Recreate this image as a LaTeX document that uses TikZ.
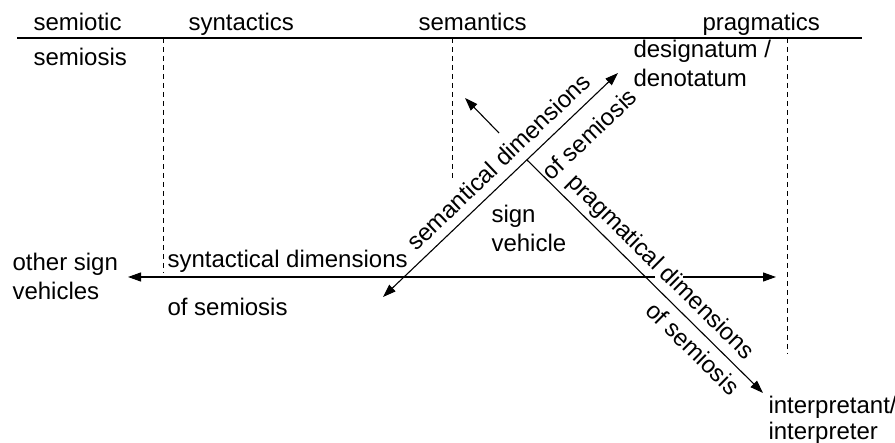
\documentclass[tikz,border=0pt]{standalone}
\usepackage{fontspec}
\setmainfont{Liberation Sans}
\usetikzlibrary{arrows.meta}

\begin{document}
\begin{tikzpicture}[>={Triangle[length=13pt,width=9pt]}, x=1pt, y=-1pt, line width=1.1pt]
    \tikzset{
        lbl/.style={inner sep=0pt, font=\fontsize{24}{29}\selectfont, align=left},
        sep/.style={line width=0.9pt, dash pattern=on 5pt off 4pt}
    }
    \useasboundingbox (0,0) rectangle (895,443);

    % --- header row ---
    \coordinate (headL) at (17,38);
    \coordinate (headR) at (862,38);
    \draw (headL) -- (headR);
    \node[lbl, anchor=base west] (semiotic)   at (33,31)  {semiotic};
    \node[lbl, anchor=base west] (syntactics) at (188,31) {syntactics};
    \node[lbl, anchor=base west] (semantics)  at (418,31) {semantics};
    \node[lbl, anchor=base west] (pragmatics) at (702,31) {pragmatics};
    \node[lbl, anchor=base west] (semiosis)   at (33,66)  {semiosis};

    % --- dashed separators ---
    \coordinate (synTop) at (163,38);  \coordinate (synBot) at (163,273);
    \coordinate (semTop) at (452,38);  \coordinate (semBot) at (452,178);
    \coordinate (praTop) at (787,38);  \coordinate (praBot) at (787,354);
    \draw[sep] (synTop) -- (synBot);
    \draw[sep] (semTop) -- (semBot);
    \draw[sep] (praTop) -- (praBot);

    % --- end labels ---
    \node[lbl, anchor=north west] (design) at (633,40) {designatum /\\denotatum};
    \node[lbl, anchor=north west] (other)  at (12,252.5) {other sign\\vehicles};
    \node[lbl, anchor=north west] (sign)   at (491,204.5) {sign\\vehicle};
    \node[lbl, anchor=north west, font=\fontsize{24}{26}\selectfont] (interp) at (768,395.5) {interpretant/\\interpreter};

    % --- syntactical dimension (horizontal, gap for the text) ---
    \coordinate (hLeft)  at (128,277);
    \coordinate (hGapL)  at (655,277);
    \coordinate (hGapR)  at (683,277);
    \coordinate (hRight) at (776,277);
    \draw[->] (hGapL) -- (hLeft);
    \draw[->] (hGapR) -- (hRight);
    \node[lbl, anchor=base west] (synDim) at (167,268) {syntactical dimensions};
    \node[lbl, anchor=base west] (synOf)  at (167,316) {of semiosis};

    % --- semantical dimension ---
    \coordinate (semLo) at (383,297);
    \coordinate (semHi) at (618,73);
    \draw[<->] (semLo) -- (semHi)
        node[lbl, sloped, pos=0.545, above=9pt] (semDim) {semantical dimensions}
        node[lbl, sloped, pos=0.806, below=15pt] (semOf) {of semiosis};

    % --- pragmatical dimension ---
    \coordinate (praTip)  at (465,98);
    \coordinate (praTail) at (499,133);
    \coordinate (praA)    at (527,160);
    \coordinate (praB)    at (763,393);
    \draw[->] (praTail) -- (praTip);
    \draw[->] (praA) -- (praB)
        node[lbl, sloped, pos=0.514, above=5pt] (praDim) {pragmatical dimensions}
        node[lbl, sloped, pos=0.755, below=8pt] (praOf) {of semiosis};

\end{tikzpicture}
\end{document}
